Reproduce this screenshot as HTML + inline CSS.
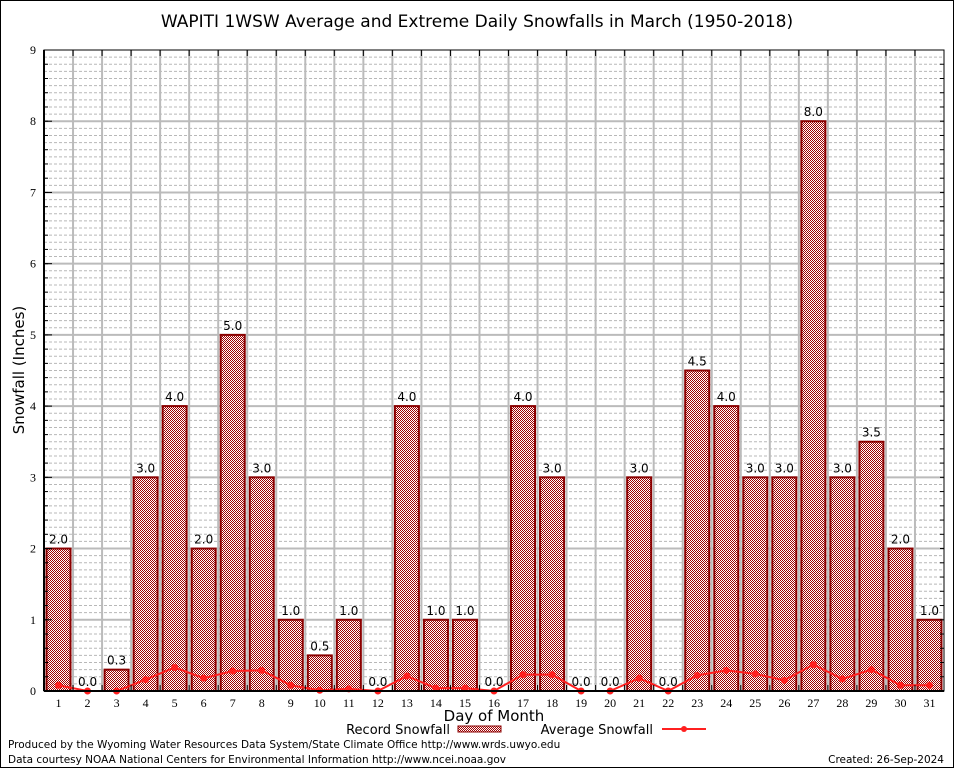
<!DOCTYPE html>
<html><head><meta charset="utf-8"><style>
html,body{margin:0;padding:0;background:#fff}
svg{display:block;font-family:"DejaVu Sans","Liberation Sans",sans-serif}
</style></head><body>
<svg id="chart" width="954" height="768" viewBox="0 0 954 768">
<defs>
<pattern id="chk" width="2" height="2" patternUnits="userSpaceOnUse">
<rect width="2" height="2" fill="#fff"/><rect width="1" height="1" fill="#a00000"/><rect x="1" y="1" width="1" height="1" fill="#a00000"/>
</pattern>
</defs>
<rect x="0.5" y="0.5" width="953" height="767" fill="#fff" stroke="#000"/>
<text x="477" y="27" text-anchor="middle" font-size="17">WAPITI 1WSW Average and Extreme Daily Snowfalls in March (1950-2018)</text>
<g id="grid"></g>
<g id="bars"></g>
<g id="line"></g>
<g id="axes"></g>
<text transform="translate(24,370) rotate(-90)" text-anchor="middle" font-size="15">Snowfall (Inches)</text>
<text x="494" y="721" text-anchor="middle" font-size="15">Day of Month</text>
<g>
<text x="450" y="734" text-anchor="end" font-size="13">Record Snowfall</text>
<rect x="458" y="726" width="43" height="6" fill="url(#chk)" stroke="#8b0000"/>
<text x="653" y="734" text-anchor="end" font-size="13">Average Snowfall</text>
<line x1="662" y1="729" x2="706" y2="729" stroke="#ff2020" stroke-width="2"/>
<circle cx="684" cy="729" r="3" fill="#ff2020"/>
</g>
<text x="8" y="748" font-size="10.5">Produced by the Wyoming Water Resources Data System/State Climate Office http://www.wrds.uwyo.edu</text>
<text x="8" y="763" font-size="10.5">Data courtesy NOAA National Centers for Environmental Information http://www.ncei.noaa.gov</text>
<text x="944" y="763" text-anchor="end" font-size="10.5">Created: 26-Sep-2024</text>
</svg>
<script>
const days = [1,2,3,4,5,6,7,8,9,10,11,12,13,14,15,16,17,18,19,20,21,22,23,24,25,26,27,28,29,30,31];
const recordSnow = [2.0,0.0,0.3,3.0,4.0,2.0,5.0,3.0,1.0,0.5,1.0,0.0,4.0,1.0,1.0,0.0,4.0,3.0,0.0,0.0,3.0,0.0,4.5,4.0,3.0,3.0,8.0,3.0,3.5,2.0,1.0];
const avgSnow = [0.08,0.0,0.0,0.16,0.33,0.18,0.28,0.29,0.08,0.01,0.03,0.0,0.21,0.04,0.04,0.0,0.23,0.23,0.0,0.0,0.18,0.0,0.22,0.29,0.24,0.15,0.37,0.17,0.30,0.08,0.08];
const yTicks = [0,1,2,3,4,5,6,7,8,9];

const NS="http://www.w3.org/2000/svg";
const L=44,R=944,T=50,B=691,YMAX=9;
const slot=(R-L)/days.length;
const x=i=>L+slot*(i+0.5);
const y=v=>B-(v/YMAX)*(B-T);
function mk(tag,attrs,parent){const e=document.createElementNS(NS,tag);for(const k in attrs)e.setAttribute(k,attrs[k]);parent.appendChild(e);return e;}
const grid=document.getElementById('grid'),bars=document.getElementById('bars'),line=document.getElementById('line'),axes=document.getElementById('axes');

for(let m=1;m<YMAX*10;m++){ if(m%10===0) continue;
  const g=mk('line',{x1:L,x2:R,y1:y(m/10),y2:y(m/10),stroke:'#b8b8b8','stroke-dasharray':'3,2','stroke-width':1},grid);
  
  
}
yTicks.forEach(t=>{
  if(t>0&&t<YMAX){const g=mk('line',{x1:L,x2:R,y1:y(t),y2:y(t),stroke:'#bbb','stroke-width':2},grid);
  
  }
  const tx=mk('text',{x:L-8,y:y(t)+4,'text-anchor':'end','font-size':12,'font-family':'Liberation Serif,serif'},axes);
  tx.textContent=t;
  
  
  const tk=mk('line',{x1:L,x2:L+8,y1:y(t),y2:y(t),stroke:'#000'},axes);
  
  
});
for(let m=1;m<YMAX*5;m++){const tk=mk('line',{x1:L,x2:L+4,y1:y(m/5),y2:y(m/5),stroke:'#000'},axes);
  
  
  const tk2=mk('line',{x1:R-4,x2:R,y1:y(m/5),y2:y(m/5),stroke:'#000'},axes);
  
  }
for(let i=1;i<days.length;i++){
  const xx=L+slot*i;
  const g=mk('line',{x1:xx,x2:xx,y1:T,y2:B,stroke:'#bbb','stroke-width':2},grid);
  
  
  const t1=mk('line',{x1:xx,x2:xx,y1:T,y2:T+6,stroke:'#000'},axes);
  
  
  const t2=mk('line',{x1:xx,x2:xx,y1:B-6,y2:B,stroke:'#000'},axes);
  
  
}
days.forEach((d,i)=>{
  const v=recordSnow[i];
  const r=mk('rect',{x:x(i)-12,y:y(v),width:24,height:B-y(v),fill:'url(#chk)',stroke:'#8b0000','stroke-width':2},bars);
  
  
  const lb=mk('text',{x:x(i),y:y(v)-5,'text-anchor':'middle','font-size':12},bars);
  lb.textContent=v.toFixed(1);
  
  
  const xl=mk('text',{x:x(i),y:B+16,'text-anchor':'middle','font-size':12,'font-family':'Liberation Serif,serif'},axes);
  xl.textContent=d;
  
  
});
const pl=mk('polyline',{points:avgSnow.map((v,i)=>x(i)+','+y(v)).join(' '),fill:'none',stroke:'#ff2020','stroke-width':2},line);


avgSnow.forEach((v,i)=>{const c=mk('circle',{cx:x(i),cy:y(v),r:3.5,fill:'#ff2020'},line);
  
  });
const fr=mk('rect',{x:L,y:T,width:R-L,height:B-T,fill:'none',stroke:'#000','stroke-width':1},axes);


const ax=mk('line',{x1:L,x2:R,y1:B,y2:B,stroke:'#000','stroke-width':2},axes);


const ay=mk('line',{x1:L,x2:L,y1:T,y2:B,stroke:'#000','stroke-width':2},axes);


</script>
</body></html>
